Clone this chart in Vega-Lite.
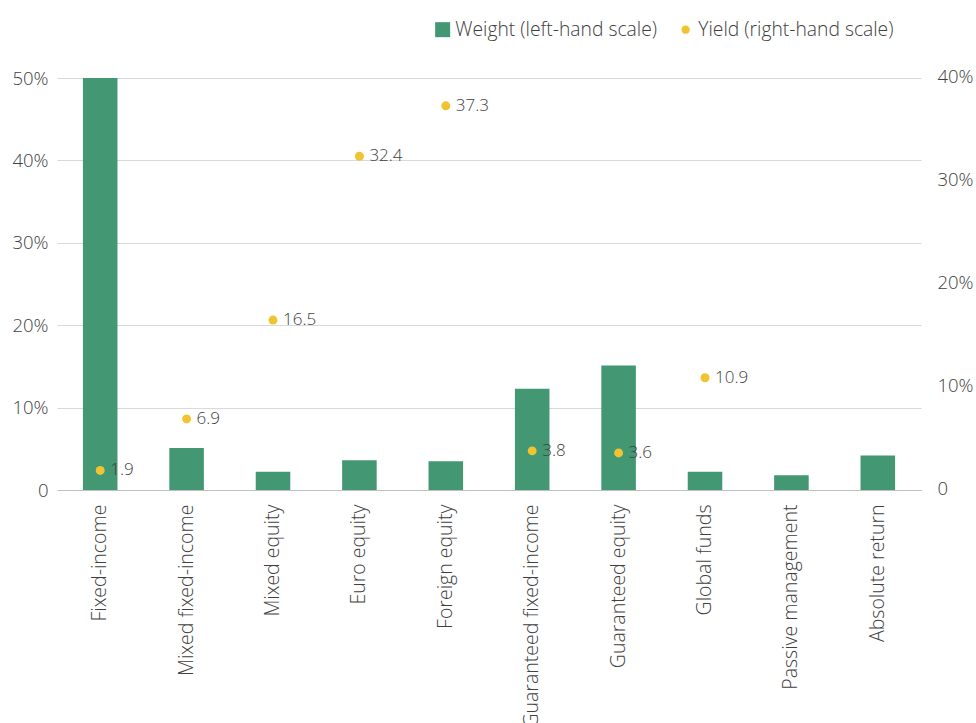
{
  "$schema": "https://vega.github.io/schema/vega-lite/v6.json",
  "width": 864,
  "height": 412,
  "autosize": {"type": "none"},
  "padding": {"left": 57, "top": 78, "right": 55, "bottom": 233},
  "background": "white",
  "config": {
    "view": {"stroke": null},
    "font": "Open Sans",
    "axis": {"labelFont": "Open Sans", "labelFontWeight": 300, "labelColor": "#404040"},
    "legend": {"labelFont": "Open Sans", "labelFontWeight": 300, "labelColor": "#404040"}
  },
  "data": {
    "values": [
      {"category": "Fixed-income", "weight": 50.0, "yield": 1.9},
      {"category": "Mixed fixed-income", "weight": 5.1, "yield": 6.9},
      {"category": "Mixed equity", "weight": 2.2, "yield": 16.5},
      {"category": "Euro equity", "weight": 3.6, "yield": 32.4},
      {"category": "Foreign equity", "weight": 3.5, "yield": 37.3},
      {"category": "Guaranteed fixed-income", "weight": 12.3, "yield": 3.8},
      {"category": "Guaranteed equity", "weight": 15.1, "yield": 3.6},
      {"category": "Global funds", "weight": 2.2, "yield": 10.9},
      {"category": "Passive management", "weight": 1.8, "yield": null},
      {"category": "Absolute return", "weight": 4.2, "yield": null}
    ]
  },
  "encoding": {
    "x": {
      "field": "category",
      "type": "nominal",
      "sort": null,
      "scale": {"paddingInner": 0.6, "paddingOuter": 0.3},
      "axis": {
        "title": null,
        "labelAngle": -90,
        "labelFontSize": 19.5,
        "labelPadding": 14,
        "ticks": false,
        "domain": true,
        "domainColor": "#bfbfbf",
        "labelLimit": 300
      }
    }
  },
  "layer": [
    {
      "mark": {"type": "bar"},
      "encoding": {
        "y": {
          "field": "weight",
          "type": "quantitative",
          "scale": {"domain": [0, 50], "nice": false},
          "axis": {
            "title": null,
            "values": [0, 10, 20, 30, 40, 50],
            "labelExpr": "datum.value == 0 ? '0' : datum.value + '%'",
            "labelFontSize": 18.5,
            "labelPadding": 9,
            "ticks": false,
            "domain": false,
            "grid": true,
            "gridColor": "#d9d9d9",
            "gridWidth": 1
          }
        },
        "color": {
          "datum": "Weight (left-hand scale)",
          "type": "nominal",
          "scale": {
            "domain": ["Weight (left-hand scale)", "Yield (right-hand scale)"],
            "range": ["#439772", "#f0c330"]
          },
          "legend": {
            "title": null,
            "orient": "none",
            "direction": "horizontal",
            "legendX": 376,
            "legendY": -58,
            "labelFontSize": 19.3,
            "labelLimit": 400,
            "symbolType": "square",
            "symbolSize": 225,
            "symbolStrokeWidth": 0,
            "labelOffset": 3,
            "columnPadding": 19,
            "encode": {
              "symbols": {
                "update": {
                  "shape": {"signal": "datum.value == 'Weight (left-hand scale)' ? 'square' : 'circle'"},
                  "size": {"signal": "datum.value == 'Weight (left-hand scale)' ? 225 : 70"}
                }
              }
            }
          }
        }
      }
    },
    {
      "transform": [{"filter": "datum.yield != null"}],
      "encoding": {
        "y": {
          "field": "yield",
          "type": "quantitative",
          "scale": {"domain": [0, 40], "nice": false},
          "axis": {
            "title": null,
            "orient": "right",
            "values": [0, 10, 20, 30, 40],
            "labelExpr": "datum.value == 0 ? '0' : datum.value + '%'",
            "labelFontSize": 18.5,
            "labelPadding": 16,
            "labelOffset": -2,
            "ticks": false,
            "domain": false,
            "grid": false
          }
        }
      },
      "layer": [
        {
          "mark": {"type": "point", "filled": true, "size": 80, "opacity": 1},
          "encoding": {
            "color": {"datum": "Yield (right-hand scale)", "type": "nominal"}
          }
        },
        {
          "mark": {"type": "text", "align": "left", "baseline": "middle", "dx": 10, "fontSize": 17, "font": "Open Sans", "fontWeight": 300, "color": "#404040"},
          "encoding": {
            "text": {"field": "yield", "type": "quantitative", "format": ".1f"}
          }
        }
      ]
    }
  ],
  "resolve": {"scale": {"y": "independent"}}
}
